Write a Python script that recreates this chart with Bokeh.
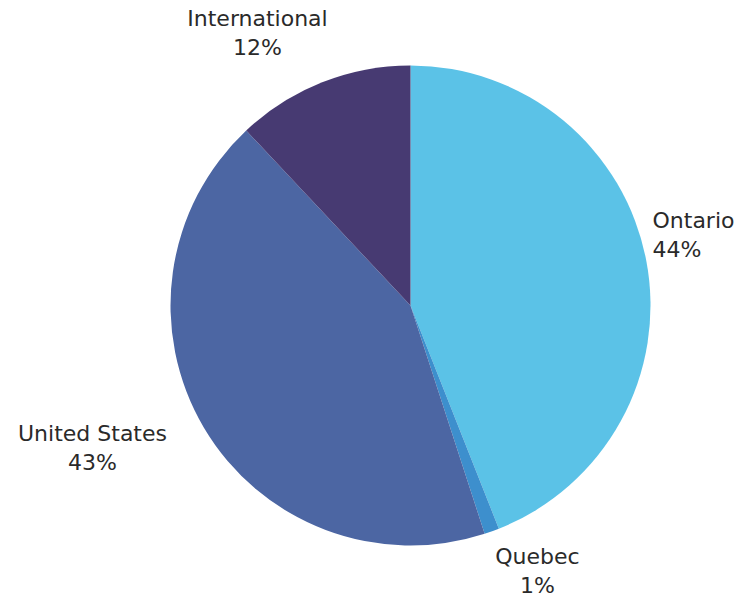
import math
from bokeh.plotting import figure
from bokeh.models import Range1d
from bokeh.core.properties import value
from bokeh.embed import file_html
from bokeh.resources import INLINE

categories = ["Ontario", "Quebec", "United States", "International"]
shares = [44, 1, 43, 12]
colors = ["#5BC2E7", "#3D8FCD", "#4C66A3", "#473A72"]

W, H = 751, 597
p = figure(width=W, height=H, output_backend="svg", toolbar_location=None,
           x_range=Range1d(0, W), y_range=Range1d(597 - H, 597),
           min_border=0)
p.axis.visible = False
p.grid.visible = False
p.outline_line_color = None
p.background_fill_color = "white"

cx, cy, r = 410, 597 - 305, 240
total = sum(shares)
cum = 0
starts, ends = [], []
for s in shares:
    a0 = math.pi / 2 - 2 * math.pi * cum / total
    cum += s
    a1 = math.pi / 2 - 2 * math.pi * cum / total
    starts.append(a1)
    ends.append(a0)

p.wedge(x=[cx] * len(shares), y=[cy] * len(shares), radius=r,
        start_angle=starts, end_angle=ends, fill_color=colors,
        line_color=None)

# label positions (pixel coords of line centres) and alignment
label_pos = {
    "Ontario": (652, 220, "left"),
    "Quebec": (537, 556, "center"),
    "United States": (92, 433, "center"),
    "International": (257, 18, "center"),
}
for cat, s in zip(categories, shares):
    x, y, al = label_pos[cat]
    for i, t in enumerate([cat, f"{s}%"]):
        p.text(x=[x], y=[597 - (y + i * 29)], text=[t],
               text_font=value("DejaVu Sans"), text_font_size="22px",
               text_color="#2a2a2a", text_align=al,
               text_baseline="middle")

open("out.html", "w").write(file_html(p, INLINE))
